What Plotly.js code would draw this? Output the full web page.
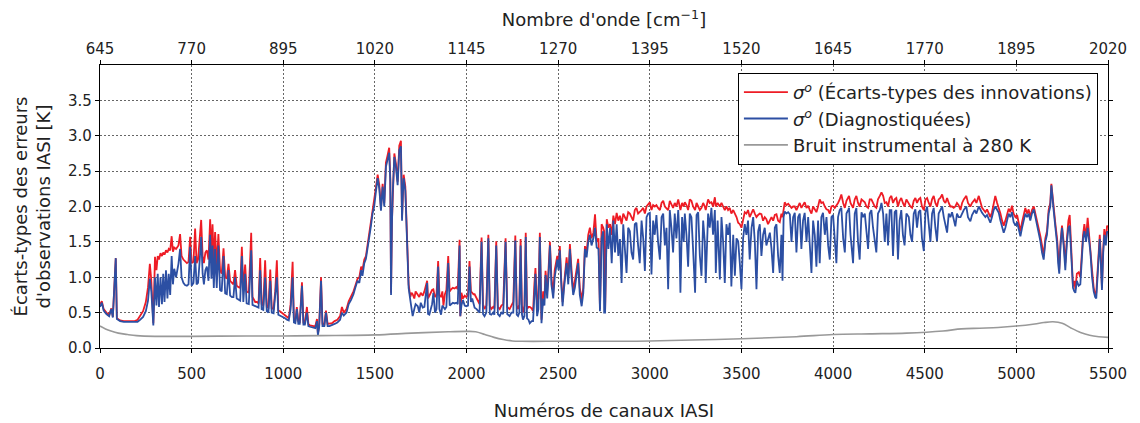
<!DOCTYPE html>
<html>
<head>
<meta charset="utf-8">
<script src="https://cdn.plot.ly/plotly-3.0.1.min.js"></script>
<style>html,body{margin:0;padding:0;background:#fff;}#chart{width:1140px;height:423px;}</style>
</head>
<body>
<div id="chart"></div>
<script>
const channels = [
0,10,20,35,50,62,70,86,92,110,130,150,170,190,205,220,235,250,262,272,280,291,300,308,315,322,330,338,345,352,360,368,375,383,391,398,405,415,428,437,445,455,464,474,483,492,500,510,519,527,535,543,552,560,567,575,583,592,601,608,614,621,628,637,646,655,664,674,683,692,701,710,720,728,737,746,756,765,774,782,792,800,812,825,832,840,847,856,865,874,882,891,901,910,919,929,937,947,956,965,973,982,992,1000,1010,1020,1030,1040,1051,1058,1066,1074,1082,1090,1102,1110,1118,1129,1137,1146,1156,1166,1175,1184,1189,1196,1206,1214,1224,1233,1242,1252,1266,1280,1295,1310,1320,1330,1345,1357,1370,1383,1393,1405,1415,1425,1432,1442,1451,1460,1469,1478,1487,1496,1505,1515,1524,1533,1542,1551,1560,1569,1578,1584,1588,1593,1597,1606,1615,1624,1633,1642,1648,1652,1657,1666,1675,1684,1693,
1700,1706,1715,1722,1734,1742,1750,1761,1770,1785,1790,1797,1805,1812,1819,1828,1836,1845,1852,1861,1868,1874,1882,1890,1900,1908,1916,1925,1935,1944,1952,1962,1966,1972,1980,1990,1998,2008,2016,2024,2031,2038,2044,2055,2062,2071,2082,2090,2098,2108,2119,2127,2135,2145,2152,2162,2171,2181,2190,2200,2213,2222,2235,2245,2255,2266,2274,2281,2288,2295,2302,2308,2316,2323,2330,2338,2345,2355,2363,2370,2376,2385,2392,2400,2409,2418,2425,2431,2440,2447,2455,2463,2473,2481,2488,2495,2502,2509,2516,2524,2532,2539,2546,2555,2564,2573,2582,2591,2600,2609,2618,2628,2637,2646,2655,2664,2673,2682,2692,2701,2710,2720,2728,2737,2746,2751,2756,2765,2774,2783,2792,2801,2810,2819,2828,2837,2846,2855,2864,2873,2882,2891,2900,2909,2918,2927,2936,2945,2955,2964,2973,2982,2991,
3000,3009,3018,3027,3036,3045,3055,3064,3073,3082,3091,3100,3109,3118,3127,3136,3145,3155,3161,3167,3176,3185,3191,3200,3209,3218,3227,3236,3247,3255,3264,3273,3282,3291,3300,3305,3318,3327,3336,3345,3355,3360,3370,3382,3391,3400,3409,3418,3427,3436,3445,3455,3464,3473,3482,3491,3500,3509,3518,3527,3536,3545,3555,3564,3573,3582,3591,3600,3609,3618,3627,3636,3645,3655,3664,3673,3682,3691,3700,3709,3718,3724,3730,3736,3745,3755,3764,3773,3782,3791,3800,3809,3818,3827,3836,3845,3855,3864,3873,3882,3891,3900,3909,3918,3927,3936,3945,3955,3964,3973,3982,3991,
4000,4009,4018,4027,4036,4045,4055,4064,4073,4082,4087,4095,4109,4118,4127,4136,4145,4155,4164,4173,4182,4191,4200,4209,4218,4227,4236,4245,4255,4264,4273,4282,4291,4300,4309,4318,4327,4336,4345,4354,4363,4372,4381,4390,4400,4413,4422,4431,4440,4449,4458,4467,4476,4485,4495,4504,4513,4522,4531,4540,4549,4558,4567,4576,4585,4595,4604,4613,4622,4631,4640,4649,4658,4667,4676,4685,4695,4704,4713,4727,4736,4749,4758,4773,4782,4795,4804,4813,4822,4831,4840,4849,4858,4867,4876,4885,4895,4904,4913,4922,4931,4940,4949,4958,4967,4976,4985,4995,
5004,5013,5022,5031,5040,5049,5058,5067,5076,5085,5095,5104,5113,5122,5131,5140,5149,5158,5167,5176,5185,5191,5198,5204,5213,5222,5228,5234,5241,5249,5258,5267,5276,5284,5291,5300,5309,5316,5322,5330,5340,5349,5358,5364,5371,5380,5389,5396,5404,5413,5422,5430,5436,5445,5455,5461,5467,5474,5480,5488,5495,5500];

// sigma_o from innovation standard deviations [K]
const sigmaInnov = [
.62,.66,.55,.50,.47,.56,.44,1.27,.42,.39,.38,.38,.37,.38,.40,.46,.52,.65,.86,1.19,.95,.35,1.29,1.10,1.30,1.25,1.34,1.30,1.35,1.32,1.38,1.35,1.40,1.38,1.58,1.36,1.42,1.40,1.45,1.61,1.30,1.25,1.22,1.20,1.22,1.57,1.20,1.22,1.69,1.20,1.25,1.55,1.81,1.30,1.20,1.35,1.38,1.25,1.82,1.30,1.75,1.20,1.64,1.15,1.61,1.10,1.05,1.41,1.00,.98,1.19,.95,.92,.90,1.10,.88,.86,.85,1.43,.82,1.18,.80,.78,1.63,.72,.68,.65,.65,.63,1.27,.62,.60,1.24,.58,.57,1.11,.56,.55,.80,1.24,.53,.52,.50,.48,.46,.44,.42,.62,1.22,.40,.38,.58,.38,.37,.93,.36,.36,.58,.34,.32,.31,.31,.31,.41,.20,.32,1.00,.34,.33,.53,.34,.34,.35,.38,.40,.45,.58,.50,.55,.66,.72,.80,.88,.98,1.00,1.15,1.10,1.25,1.30,1.45,1.65,1.78,1.95,2.05,2.26,2.45,2.30,1.98,2.32,2.05,2.62,2.72,2.83,2.40,.78,1.80,2.22,2.75,2.60,2.35,2.86,2.93,1.84,2.20,2.45,2.28,1.50,.90,.72,
.78,.76,.70,.80,.76,.72,.78,.74,.80,.95,.70,.74,.78,.82,.83,.72,.75,1.23,.75,.72,.80,.60,.76,.82,1.30,.80,.83,.85,.84,.86,.83,1.53,.45,.78,.70,.74,.72,.75,1.23,.80,.78,.76,.76,.70,.68,.62,1.56,.62,.55,.60,1.60,.60,.55,.58,.56,1.51,.58,.55,.60,.62,1.55,.58,.55,.60,.65,1.59,.60,.55,.62,1.54,.60,.50,.60,1.63,.55,.58,.58,.56,.52,.90,1.13,.60,.70,1.63,.40,.80,.70,1.09,.80,1.10,1.50,1.00,.78,1.10,1.20,1.30,1.20,1.44,1.00,.65,.90,1.10,1.28,1.00,1.47,1.10,.80,.95,1.10,1.26,.85,.68,.85,1.44,1.35,1.60,1.70,1.55,1.63,1.89,1.50,1.55,.55,1.75,1.70,1.65,.52,1.82,1.70,1.75,1.60,1.87,1.75,1.91,1.80,1.87,1.75,1.90,1.85,1.80,1.92,1.90,1.85,1.80,1.95,1.98,1.90,1.92,1.95,1.98,1.90,2.00,2.03,
2.06,1.95,2.02,2.00,2.02,1.98,1.95,2.05,2.08,2.00,1.98,1.95,2.08,2.02,1.98,2.05,2.00,2.10,2.00,1.95,2.05,2.00,2.06,2.02,1.95,2.10,2.08,2.00,1.95,2.05,2.00,1.95,1.98,2.05,2.00,1.95,2.10,2.05,2.06,2.00,2.13,2.00,2.05,2.00,2.05,2.00,1.95,2.00,1.95,1.98,1.90,1.95,1.90,1.85,1.77,1.75,1.70,1.80,1.92,1.90,1.95,1.85,1.90,1.96,1.90,1.85,1.88,1.90,1.89,1.80,1.85,1.82,1.75,1.80,1.85,1.80,1.88,1.89,1.80,1.78,1.90,1.85,2.00,2.06,2.02,2.04,2.01,1.98,2.00,2.00,1.95,2.00,2.05,1.98,2.02,2.06,1.98,2.01,1.95,1.90,2.00,1.95,1.92,2.00,2.10,2.05,2.06,2.00,1.96,1.95,1.90,2.00,
2.01,1.98,2.01,2.05,2.10,2.17,2.05,1.98,2.08,2.12,2.15,2.05,1.98,2.10,2.15,2.05,2.00,2.10,2.08,2.06,2.00,1.98,2.10,2.10,2.05,2.00,1.98,2.10,2.15,2.20,2.15,2.05,2.06,2.00,2.12,2.15,2.05,2.10,2.12,2.00,2.08,2.12,2.05,2.00,2.10,2.03,2.00,1.98,2.08,2.12,2.05,2.10,2.12,2.00,1.95,2.10,2.12,2.05,2.00,2.10,2.15,2.05,2.00,2.10,2.12,2.17,2.08,2.05,2.12,2.05,2.00,2.00,1.98,2.00,2.05,2.02,1.95,2.05,2.10,2.15,2.05,2.00,2.05,2.10,2.05,2.15,2.05,1.98,1.95,1.92,1.96,1.90,1.85,1.92,2.05,2.15,2.05,1.98,1.90,1.80,1.73,1.80,1.90,1.97,1.92,2.01,1.90,1.85,
1.88,1.75,1.65,1.78,1.90,1.98,1.90,1.96,1.85,1.95,2.00,1.90,1.80,1.70,1.58,1.45,1.30,1.55,1.65,1.95,2.05,2.32,2.10,1.96,1.75,1.55,1.30,1.11,1.50,1.73,1.50,1.20,1.55,1.80,1.88,1.40,.87,.95,.83,1.05,1.07,1.00,1.40,1.60,1.75,1.55,1.84,1.60,1.40,1.10,.85,.75,.78,1.20,1.60,1.30,.85,1.40,1.68,1.50,1.73,1.70];

// sigma_o diagnosed [K]
const sigmaDiag = [
.58,.64,.53,.48,.45,.55,.43,1.27,.41,.38,.37,.37,.36,.36,.37,.40,.44,.52,.67,.98,.80,.32,1.00,.60,1.05,.58,1.00,.62,1.05,.65,1.10,.70,1.05,.75,1.30,.90,1.12,1.00,1.19,1.40,1.00,.92,.89,.88,.90,1.43,.88,.92,1.30,.90,.92,1.20,1.57,1.05,.90,1.10,1.15,.95,1.60,.98,1.45,.85,1.40,.85,1.45,.82,.80,1.30,.77,.76,1.10,.74,.72,.72,1.00,.70,.68,.67,1.30,.65,1.05,.63,.62,1.38,.61,.60,.60,.58,.57,1.10,.55,.54,1.00,.52,.50,.95,.50,.49,.70,1.00,.47,.46,.45,.44,.42,.40,.39,.55,1.00,.36,.35,.55,.34,.34,.88,.33,.33,.50,.31,.30,.29,.29,.28,.38,.18,.30,.95,.31,.31,.50,.31,.31,.32,.34,.36,.40,.50,.46,.50,.62,.68,.76,.85,.95,.92,1.10,1.02,1.20,1.26,1.40,1.60,1.72,1.90,2.00,2.20,2.40,2.25,1.94,2.28,2.00,2.56,2.66,2.76,2.35,.75,1.75,2.18,2.70,2.55,2.30,2.80,2.85,1.80,2.15,2.40,2.22,1.46,.85,.68,
.50,.45,.55,.62,.59,.50,.64,.57,.58,.92,.48,.47,.55,.62,.78,.50,.55,1.15,.55,.47,.60,.58,.55,.58,1.20,.60,.62,.64,.63,.64,.62,1.45,.45,.60,.68,.60,.59,.60,1.15,.65,.70,.62,.57,.55,.52,.50,1.50,.48,.45,.50,1.55,.48,.47,.50,.47,1.45,.48,.45,.50,.48,1.50,.48,.45,.50,.50,1.52,.47,.45,.50,1.45,.48,.40,.45,1.57,.42,.40,.35,.38,.38,.80,1.05,.45,.55,1.57,.35,.70,.60,1.03,.70,1.00,1.45,.90,.70,1.00,1.10,1.25,1.10,1.38,.95,.59,.85,1.05,1.20,.90,1.40,1.00,.75,.85,1.02,1.20,.75,.59,.78,1.40,1.28,1.50,1.60,1.45,1.55,1.70,1.42,1.40,.52,1.55,1.65,.50,.50,1.75,1.40,1.70,1.20,1.80,1.35,1.75,1.30,1.54,.92,1.75,1.40,1.06,1.70,1.65,1.35,1.25,1.75,1.77,1.45,1.20,1.80,1.55,1.09,1.85,1.90,
1.91,1.04,1.80,1.60,1.88,1.50,1.25,1.85,1.90,1.45,1.70,.83,1.95,1.70,1.35,1.90,1.55,1.95,1.60,.78,1.85,1.50,1.90,1.60,1.15,1.90,1.85,1.40,.78,1.88,1.92,1.30,1.02,1.80,1.50,.92,1.90,1.70,1.98,1.60,1.95,1.06,1.80,.97,1.85,1.50,.92,1.75,1.60,1.77,.87,1.60,1.02,1.55,1.51,1.20,.83,1.55,1.75,1.60,1.80,1.25,1.70,1.85,1.50,.83,1.65,1.75,1.30,1.60,1.70,1.45,1.55,1.63,1.40,1.06,1.70,1.75,1.30,1.06,1.60,.95,1.85,1.93,1.90,1.92,1.89,1.50,1.85,1.91,1.35,1.85,1.90,1.40,1.80,1.91,1.50,1.85,1.45,1.06,1.80,1.60,1.15,1.80,1.20,1.85,1.91,1.60,1.85,1.45,1.25,1.85,
1.88,1.60,1.20,1.85,1.95,1.98,1.55,1.35,1.90,1.95,1.98,1.60,1.20,1.90,1.98,1.50,1.25,1.92,1.85,1.90,1.60,1.40,1.90,1.95,1.70,1.55,1.35,1.90,1.95,2.05,1.90,1.50,1.90,1.45,1.95,1.95,1.30,1.92,1.95,1.25,1.80,1.95,1.60,1.45,1.90,1.85,1.60,1.50,1.90,1.96,1.70,1.92,1.95,1.55,1.37,1.92,2.00,1.75,1.50,1.90,1.98,1.70,1.51,1.90,1.95,2.00,1.85,1.75,1.63,1.90,1.85,1.92,1.80,1.72,1.90,1.85,1.85,1.90,1.95,2.00,1.85,1.79,1.88,1.95,1.90,2.00,1.95,1.91,1.88,1.85,1.88,1.82,1.77,1.85,1.95,2.00,1.95,1.91,1.80,1.70,1.63,1.70,1.82,1.90,1.85,1.92,1.78,1.73,
1.78,1.65,1.58,1.70,1.82,1.90,1.85,1.90,1.80,1.90,1.96,1.85,1.70,1.60,1.51,1.35,1.25,1.50,1.60,1.90,2.00,2.30,2.05,1.93,1.70,1.48,1.20,1.05,1.45,1.70,1.45,1.10,1.50,1.70,1.73,1.30,.85,.80,.78,.95,.88,.90,1.35,1.55,1.65,1.50,1.70,1.55,1.35,1.00,.80,.72,.70,1.10,1.54,1.20,.82,1.35,1.60,1.45,1.65,1.62];

// instrumental noise at 280 K [K]
const noiseChannels = [0,30,60,100,150,200,300,500,800,1000,1200,1500,1700,1900,2000,2050,2100,2150,2200,2250,2300,2500,3000,3500,3800,4000,4200,4400,4600,4700,4800,4900,5000,5100,5150,5200,5250,5300,5350,5400,5450,5500];
const noiseValues = [0.31,0.27,0.24,0.21,0.19,0.175,0.165,0.165,0.17,0.17,0.175,0.185,0.21,0.23,0.235,0.23,0.19,0.15,0.12,0.10,0.095,0.095,0.10,0.13,0.16,0.19,0.20,0.21,0.24,0.27,0.28,0.29,0.31,0.34,0.36,0.37,0.35,0.28,0.22,0.18,0.16,0.15];

// top axis: wavenumber range [cm-1]
const waveRange = [645, 2020];
const yTicks = [0,0.5,1,1.5,2,2.5,3,3.5];
const yTickText = ['0.0','0.5','1.0','1.5','2.0','2.5','3.0','3.5'];

const FONT = 'DejaVu Sans, sans-serif';
const traces = [
  {x: channels, y: sigmaInnov, type:'scatter', mode:'lines', name:'<i>σ</i><sup><i>o</i></sup> (Écarts-types des innovations)', line:{color:'#ee1c25', width:1.8}, hoverinfo:'skip'},
  {x: channels, y: sigmaDiag, type:'scatter', mode:'lines', name:'<i>σ</i><sup><i>o</i></sup> (Diagnostiquées)', line:{color:'#2c4fa3', width:1.8}, hoverinfo:'skip'},
  {x: noiseChannels, y: noiseValues, type:'scatter', mode:'lines', line:{shape:'spline', color:'#999999', width:1.6}, name:'Bruit instrumental à 280 K', hoverinfo:'skip'},
  {x: waveRange, y: [0,0], xaxis:'x2', type:'scatter', mode:'lines', line:{width:0, color:'rgba(0,0,0,0)'}, showlegend:false, hoverinfo:'skip'}
];

const axisCommon = {showline:true, linecolor:'#000', linewidth:1.2, ticks:'outside', ticklen:4, tickcolor:'#000', zeroline:false,
  tickfont:{family:FONT, size:15, color:'#222'}};
const GRIDDASH = '1.5px,2.5px';

const layout = {
  width:1140, height:423,
  margin:{l:100, r:32, t:65, b:75},
  paper_bgcolor:'#fff', plot_bgcolor:'#fff',
  font:{family:FONT, size:15, color:'#222'},
  showlegend:true,
  legend:{x:0.99, y:0.972, xanchor:'right', yanchor:'top', bordercolor:'#000', borderwidth:1, bgcolor:'#fff',
    font:{family:FONT, size:18, color:'#222'}, tracegroupgap:0, itemwidth:44},
  xaxis:Object.assign({}, axisCommon, {range:[0,5500], tick0:0, dtick:500, mirror:false, ticklabelstandoff:8,
    showgrid:true, gridcolor:'#666', griddash:GRIDDASH, gridwidth:1,
    title:{text:'Numéros de canaux IASI', font:{family:FONT, size:18, color:'#222'}, standoff:22}}),
  xaxis2:Object.assign({}, axisCommon, {overlaying:'x', side:'top', anchor:'y', range:waveRange, tick0:645, dtick:125, showgrid:false,
    title:{text:"Nombre d'onde [cm<sup>−1</sup>]", font:{family:FONT, size:18, color:'#222'}, standoff:8}}),
  yaxis:Object.assign({}, axisCommon, {range:[0,4], tickvals:yTicks, ticktext:yTickText, mirror:'ticks',
    showgrid:true, gridcolor:'#666', griddash:GRIDDASH, gridwidth:1,
    title:{text:"Écarts-types des erreurs<br>d'observations IASI [K]", font:{family:FONT, size:18, color:'#222'}, standoff:12}})
};

Plotly.newPlot('chart', traces, layout, {staticPlot:true, displayModeBar:false});
</script>
</body>
</html>
